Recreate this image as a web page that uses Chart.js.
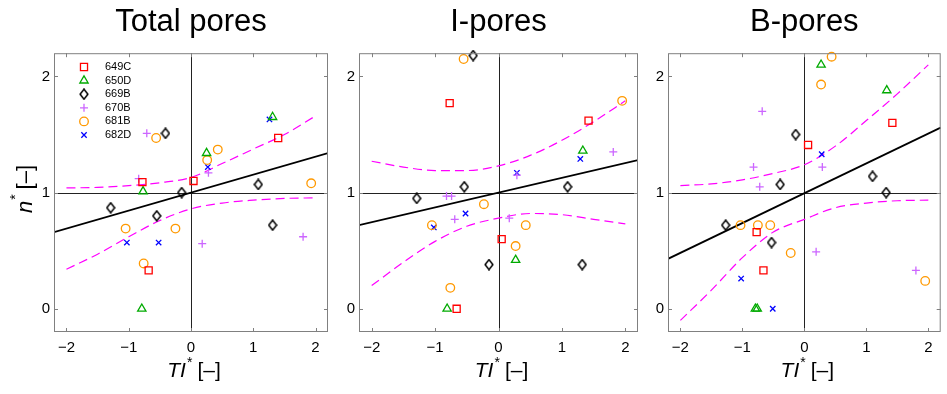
<!DOCTYPE html>
<html><head><meta charset="utf-8">
<script src="https://cdn.jsdelivr.net/npm/chart.js@4"></script>
<style>
html,body{margin:0;padding:0;background:#fff;}
#wrap{position:relative;width:947px;height:394px;overflow:hidden;background:#fff;}
canvas{position:absolute;top:0;}
</style></head><body>
<div id="wrap">
<canvas id="c1" width="340" height="394" style="left:0px"></canvas>
<canvas id="c2" width="305" height="394" style="left:340px"></canvas>
<canvas id="c3" width="302" height="394" style="left:645px"></canvas>
</div>
<script>
// ---------- data ----------
const categories = ['649C', '650D', '669B', '670B', '681B', '682D'];
const panelTitles = ['Total pores', 'I-pores', 'B-pores'];
const xTickValues = [-2, -1, 0, 1, 2];
const yTickValues = [0, 1, 2];

// Total pores  [TI*, n*]
const total649C = [[-0.78, 1.09], [0.04, 1.10], [1.40, 1.47], [-0.68, 0.33]];
const total650D = [[-0.77, 1.01], [0.25, 1.34], [1.31, 1.65], [-0.79, 0.0]];
const total669B = [[-0.41, 1.51], [-0.15, 1.00], [-1.29, 0.87], [-0.55, 0.80], [1.08, 1.07], [1.31, 0.72]];
const total670B = [[-0.71, 1.51], [-0.84, 1.12], [0.28, 1.17], [0.18, 0.56], [1.80, 0.62]];
const total681B = [[-0.56, 1.47], [0.43, 1.37], [0.26, 1.28], [-1.05, 0.69], [-0.25, 0.69], [-0.76, 0.39], [1.93, 1.08]];
const total682D = [[1.26, 1.63], [0.27, 1.22], [-1.03, 0.57], [-0.52, 0.57]];

// I-pores
const ipore649C = [[-0.77, 1.77], [1.42, 1.62], [0.05, 0.60], [-0.66, 0.0]];
const ipore650D = [[1.33, 1.36], [0.27, 0.42], [-0.81, 0.0]];
const ipore669B = [[-0.40, 2.18], [-0.54, 1.05], [-1.29, 0.95], [-0.15, 0.38], [1.09, 1.05], [1.32, 0.38]];
const ipore670B = [[-0.82, 0.97], [-0.74, 0.97], [-0.69, 0.77], [0.17, 0.78], [0.29, 1.15], [1.81, 1.35]];
const ipore681B = [[-0.55, 2.15], [-0.23, 0.90], [-1.05, 0.72], [0.43, 0.72], [0.27, 0.54], [-0.76, 0.18], [1.95, 1.79]];
const ipore682D = [[-1.02, 0.70], [-0.52, 0.82], [0.29, 1.17], [1.29, 1.29]];

// B-pores
const bpore649C = [[0.06, 1.41], [1.42, 1.60], [-0.77, 0.66], [-0.66, 0.33]];
const bpore650D = [[0.27, 2.10], [1.33, 1.88], [-0.79, 0.0], [-0.76, 0.0]];
const bpore669B = [[-0.14, 1.50], [-0.39, 1.07], [1.10, 1.14], [1.32, 1.00], [-1.27, 0.72], [-0.53, 0.57]];
const bpore670B = [[-0.68, 1.70], [-0.82, 1.22], [-0.72, 1.05], [0.29, 1.22], [0.19, 0.49], [1.80, 0.33]];
const bpore681B = [[0.44, 2.17], [0.27, 1.93], [-1.03, 0.72], [-0.75, 0.72], [-0.55, 0.72], [-0.22, 0.48], [1.95, 0.24]];
const bpore682D = [[0.28, 1.33], [-1.02, 0.26], [-0.51, 0.0]];

// regression lines and confidence bands
const fitX = [-2.2, 2.2];
const totalFit = [0.66, 1.34];
const iporeFit = [0.72, 1.28];
const bporeFit = [0.43, 1.56];
const bandX = [-2, -1.5, -1, -0.5, 0, 0.5, 1, 1.5, 2];
const totalUpper = [1.04, 1.045, 1.06, 1.085, 1.13, 1.25, 1.375, 1.50, 1.66];
const totalLower = [0.34, 0.47, 0.62, 0.76, 0.86, 0.91, 0.935, 0.95, 0.955];
const iporeUpper = [1.27, 1.22, 1.19, 1.19, 1.23, 1.32, 1.45, 1.61, 1.79];
const iporeLower = [0.20, 0.40, 0.58, 0.71, 0.78, 0.82, 0.81, 0.77, 0.73];
const bporeUpper = [1.06, 1.075, 1.11, 1.165, 1.24, 1.40, 1.62, 1.85, 2.10];
const bporeLower = [-0.10, 0.16, 0.44, 0.66, 0.77, 0.87, 0.91, 0.93, 0.935];

// ---------- styles ----------
const FONT = '"Liberation Sans", Arial, Helvetica, sans-serif';
function makeDiamond() {
  const c = document.createElement('canvas');
  c.width = 10; c.height = 12;
  const g = c.getContext('2d');
  g.strokeStyle = '#000'; g.lineWidth = 1.5;
  g.lineJoin = 'miter';
  g.beginPath();
  g.moveTo(5, 1); g.lineTo(8.9, 6); g.lineTo(5, 11); g.lineTo(1.1, 6); g.closePath();
  g.stroke();
  return c;
}
const diamond = makeDiamond();
const seriesStyle = {
  '649C': {pointStyle: 'rect', radius: 5, color: '#ff0000'},
  '650D': {pointStyle: 'triangle', radius: 4.8, color: '#00aa00'},
  '669B': {pointStyle: diamond, radius: 5, color: '#000000'},
  '670B': {pointStyle: 'cross', radius: 4, color: '#cc66ff'},
  '681B': {pointStyle: 'circle', radius: 4.3, color: '#ff9900'},
  '682D': {pointStyle: 'crossRot', radius: 3.8, color: '#0000ff'}
};

const toXY = arr => arr.map(p => ({x: p[0], y: p[1]}));
const zipXY = (xs, ys) => xs.map((x, i) => ({x: x, y: ys[i]}));
const fmtTick = v => v < 0 ? '\u2212' + Math.abs(v) : String(v);

function drawMarker(ctx, key, x, y) {
  const s = seriesStyle[key];
  if (Chart.helpers && Chart.helpers.drawPoint) {
    ctx.save();
    ctx.strokeStyle = s.color; ctx.fillStyle = 'rgba(0,0,0,0)'; ctx.lineWidth = 1.3;
    Chart.helpers.drawPoint(ctx, {pointStyle: s.pointStyle, radius: s.radius, rotation: 0, borderWidth: 1.3}, x, y);
    ctx.restore();
  }
}

function drawRich(ctx, pieces, cx, base) {
  let total = 0;
  pieces.forEach(p => { ctx.font = p.font; p.w = ctx.measureText(p.t).width; total += p.w + (p.gap || 0); });
  let x = cx - total / 2;
  ctx.fillStyle = '#000'; ctx.textAlign = 'left'; ctx.textBaseline = 'alphabetic';
  pieces.forEach(p => { ctx.font = p.font; ctx.fillText(p.t, x, base + (p.dy || 0)); x += p.w + (p.gap || 0); });
}

const decor = {
  id: 'decor',
  beforeDatasetsDraw(chart) {
    const {ctx, chartArea: a, scales: {x, y}} = chart;
    ctx.save();
    ctx.strokeStyle = '#222'; ctx.lineWidth = 1;
    const x0 = Math.round(x.getPixelForValue(0)) + 0.5;
    const y1 = Math.round(y.getPixelForValue(1)) + 0.5;
    ctx.beginPath();
    ctx.moveTo(x0, a.top); ctx.lineTo(x0, a.bottom);
    ctx.moveTo(a.left, y1); ctx.lineTo(a.right, y1);
    ctx.stroke();
    ctx.restore();
  },
  afterDatasetsDraw(chart) {
    const {ctx, chartArea: a, scales: {x, y}} = chart;
    ctx.save();
    ctx.strokeStyle = '#808080'; ctx.lineWidth = 1;
    ctx.strokeRect(a.left + 0.5, a.top + 0.5, a.right - a.left - 1, a.bottom - a.top - 1);
    ctx.beginPath();
    xTickValues.forEach(v => {
      const px = Math.round(x.getPixelForValue(v)) + 0.5;
      ctx.moveTo(px, a.bottom); ctx.lineTo(px, a.bottom - 4);
      ctx.moveTo(px, a.top); ctx.lineTo(px, a.top + 4);
    });
    yTickValues.forEach(v => {
      const py = Math.round(y.getPixelForValue(v)) + 0.5;
      ctx.moveTo(a.left, py); ctx.lineTo(a.left + 4, py);
      ctx.moveTo(a.right, py); ctx.lineTo(a.right - 4, py);
    });
    ctx.stroke();
    ctx.restore();
  },
  afterDraw(chart) {
    const {ctx, chartArea: a} = chart;
    const o = chart.options.plugins.decor || {};
    ctx.save();
    // x-axis title
    drawRich(ctx, [
      {t: 'TI', font: 'italic 21px ' + FONT, gap: 1},
      {t: '*', font: '14px ' + FONT, dy: -10, gap: 5},
      {t: '[\u2013]', font: '21px ' + FONT}
    ], (a.left + a.right) / 2 + 3, 377);
    if (o.yTitle) {
      ctx.save();
      ctx.translate(32, 189);
      ctx.rotate(-Math.PI / 2);
      drawRich(ctx, [
        {t: 'n', font: 'italic 22px ' + FONT, gap: 1},
        {t: '*', font: '14px ' + FONT, dy: -12, gap: 5},
        {t: '[\u2013]', font: '22px ' + FONT}
      ], 0, 0);
      ctx.restore();
    }
    if (o.legend) {
      categories.forEach((c, i) => {
        const yy = 67 + i * 13.6;
        drawMarker(ctx, c, 84, yy);
        ctx.fillStyle = '#000'; ctx.textAlign = 'left'; ctx.textBaseline = 'middle';
        ctx.font = '11px ' + FONT;
        ctx.fillText(c, 105, yy);
      });
    }
    ctx.restore();
  }
};

function makePanel(canvasId, title, sets, fit, upper, lower, yWidth, padRight, showLegend, showYTitle) {
  const datasets = [];
  categories.forEach((c, i) => {
    const s = seriesStyle[c];
    datasets.push({
      label: c, data: toXY(sets[i]), showLine: false, clip: false, order: 0,
      pointStyle: s.pointStyle, pointRadius: s.radius, pointBorderColor: s.color,
      pointBackgroundColor: 'rgba(0,0,0,0)', pointBorderWidth: 1.3,
      borderColor: s.color, backgroundColor: 'rgba(0,0,0,0)'
    });
  });
  datasets.push({label: 'fit', data: zipXY(fitX, fit), showLine: true, pointRadius: 0,
    borderColor: '#000', borderWidth: 1.8, order: 1});
  datasets.push({label: 'upper', data: zipXY(bandX, upper), showLine: true, pointRadius: 0,
    borderColor: '#ff00ff', borderWidth: 1.2, borderDash: [9, 5], cubicInterpolationMode: 'monotone', order: 1});
  datasets.push({label: 'lower', data: zipXY(bandX, lower), showLine: true, pointRadius: 0,
    borderColor: '#ff00ff', borderWidth: 1.2, borderDash: [9, 5], cubicInterpolationMode: 'monotone', order: 1});

  return new Chart(document.getElementById(canvasId), {
    type: 'scatter',
    data: {datasets},
    options: {
      responsive: false, animation: false, events: [],
      layout: {padding: {left: 0, right: padRight, top: 0, bottom: 0}},
      plugins: {
        legend: {display: false}, tooltip: {enabled: false},
        title: {display: true, text: title, color: '#000', fullSize: false,
          font: {family: FONT, size: 31, weight: 'normal'}, padding: {top: 4, bottom: 12}},
        decor: {legend: showLegend, yTitle: showYTitle}
      },
      scales: {
        x: {
          type: 'linear', min: -2.2, max: 2.2,
          afterBuildTicks: s => { s.ticks = xTickValues.map(v => ({value: v})); },
          afterFit: s => { s.height = 62; },
          grid: {display: false, drawTicks: false}, border: {display: false},
          ticks: {font: {family: FONT, size: 15}, color: '#000', padding: 7, maxRotation: 0, autoSkip: false, callback: v => fmtTick(v)}
        },
        y: {
          type: 'linear', min: -0.2, max: 2.2,
          afterBuildTicks: s => { s.ticks = yTickValues.map(v => ({value: v})); },
          afterFit: s => { s.width = yWidth; },
          grid: {display: false, drawTicks: false}, border: {display: false},
          ticks: {font: {family: FONT, size: 15}, color: '#000', padding: 4, autoSkip: false, callback: v => fmtTick(v)}
        }
      }
    },
    plugins: [decor]
  });
}

makePanel('c1', panelTitles[0], [total649C, total650D, total669B, total670B, total681B, total682D],
  totalFit, totalUpper, totalLower, 54, 12, true, true);
makePanel('c2', panelTitles[1], [ipore649C, ipore650D, ipore669B, ipore670B, ipore681B, ipore682D],
  iporeFit, iporeUpper, iporeLower, 19, 7, false, false);
makePanel('c3', panelTitles[2], [bpore649C, bpore650D, bpore669B, bpore670B, bpore681B, bpore682D],
  bporeFit, bporeUpper, bporeLower, 23, 1, false, false);
</script>
</body></html>
